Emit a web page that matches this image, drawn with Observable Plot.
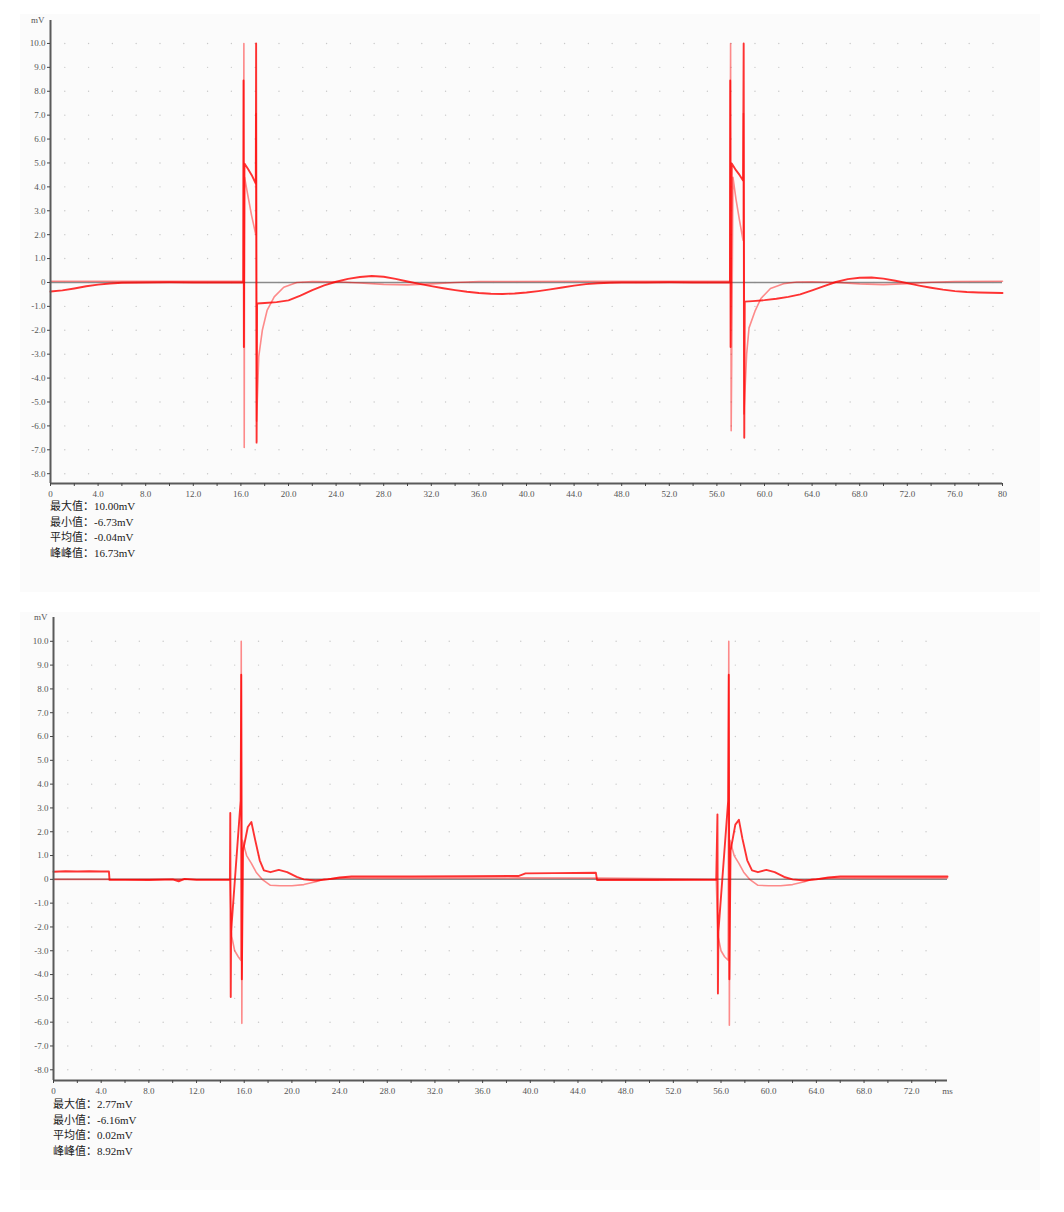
<!DOCTYPE html>
<html><head><meta charset="utf-8">
<script src="https://cdn.jsdelivr.net/npm/d3@7"></script>
<script src="https://cdn.jsdelivr.net/npm/@observablehq/plot@0.6"></script>
<style>
body{margin:0;background:#fff;width:1064px;height:1212px;position:relative;overflow:hidden}
.panel{position:absolute;left:20px;width:1020px;background:#fbfbfb}
.chart{position:absolute;left:0}
.stats{position:absolute;font-size:11px;line-height:15.5px;color:#222;font-family:"Liberation Serif","Noto Sans CJK SC",serif;white-space:pre}
</style></head><body>
<div class="panel" style="top:14px;height:578px"></div>
<div class="panel" style="top:612px;height:578px"></div>
<div id="top" class="chart" style="top:0px"></div>
<div id="bottom" class="chart" style="top:600px"></div>
<div id="statsTop" class="stats" style="left:50px;top:499px"></div>
<div id="statsBottom" class="stats" style="left:53px;top:1097px"></div>
<script>
// ---------- tick values / labels ----------
const yTicks = [-8,-7,-6,-5,-4,-3,-2,-1,0,1,2,3,4,5,6,7,8,9,10];
const yTickLabels = ["-8.0","-7.0","-6.0","-5.0","-4.0","-3.0","-2.0","-1.0","0","1.0","2.0","3.0","4.0","5.0","6.0","7.0","8.0","9.0","10.0"];
const xTicksTop = [0,4,8,12,16,20,24,28,32,36,40,44,48,52,56,60,64,68,72,76,80];
const xLabelsTop = ["0","4.0","8.0","12.0","16.0","20.0","24.0","28.0","32.0","36.0","40.0","44.0","48.0","52.0","56.0","60.0","64.0","68.0","72.0","76.0","80"];
const xTicksBottom = [0,4,8,12,16,20,24,28,32,36,40,44,48,52,56,60,64,68,72,75];
const xLabelsBottom = ["0","4.0","8.0","12.0","16.0","20.0","24.0","28.0","32.0","36.0","40.0","44.0","48.0","52.0","56.0","60.0","64.0","68.0","72.0","ms"];
const xMinorTop = [0,2,4,6,8,10,12,14,16,18,20,22,24,26,28,30,32,34,36,38,40,42,44,46,48,50,52,54,56,58,60,62,64,66,68,70,72,74,76,78,80];
const xMinorBottom = [0,2,4,6,8,10,12,14,16,18,20,22,24,26,28,30,32,34,36,38,40,42,44,46,48,50,52,54,56,58,60,62,64,66,68,70,72,74];
const unitLabel = "mV";

// ---------- statistics text ----------
const statNames = ["最大值","最小值","平均值","峰峰值"];
const statsTop = ["10.00mV","-6.73mV","-0.04mV","16.73mV"];
const statsBottom = ["2.77mV","-6.16mV","0.02mV","8.92mV"];

// ---------- top panel traces [time ms, mV] ----------
const topTrace1 = [[0,0.05],[8,0.05],[16.2,0.05],[16.25,10],[16.28,-6.9],[16.31,4.4],[16.6,3.6],[16.9,2.8],[17.25,2.0],[17.28,7.07],[17.32,-5.8],[17.5,-3.1],[17.8,-2.0],[18.2,-1.17],[18.8,-0.6],[19.6,-0.2],[20.7,0],[22,0.04],[24,0.03],[26,-0.02],[28,-0.08],[30,-0.1],[32,-0.06],[34,0],[36,0.04],[46,0.05],[57.1,0.05],[57.15,10],[57.2,-6.2],[57.35,4.4],[57.6,3.5],[57.9,2.6],[58.2,1.76],[58.23,7.07],[58.27,-5.5],[58.5,-3.0],[58.7,-1.9],[59.2,-1.2],[59.7,-0.67],[60.5,-0.25],[61.6,-0.05],[62.7,0.02],[64,0.03],[66,0],[68,-0.06],[70,-0.09],[72,-0.05],[74,0.01],[76,0.04],[80,0.05]];
const topTrace2 = [[0,-0.38],[1,-0.33],[2,-0.25],[3,-0.16],[4,-0.09],[5,-0.04],[6,-0.01],[8,0],[10,0.01],[12,0],[14,0],[16.2,0],[16.22,8.45],[16.25,-2.7],[16.3,4.98],[16.6,4.75],[16.9,4.5],[17.25,4.14],[17.28,10],[17.32,-6.7],[17.36,-0.88],[18,-0.86],[19,-0.82],[20,-0.75],[21,-0.55],[22,-0.32],[23,-0.12],[24,0.03],[25,0.15],[26,0.23],[27,0.27],[28,0.24],[29,0.15],[30,0.04],[31,-0.06],[32,-0.15],[33,-0.24],[34,-0.32],[35,-0.39],[36,-0.44],[37,-0.47],[38,-0.48],[39,-0.46],[40,-0.42],[41,-0.36],[42,-0.29],[43,-0.21],[44,-0.13],[45,-0.07],[46,-0.03],[47,-0.01],[48,0],[50,0],[52,0.01],[54,0],[57.1,0],[57.12,8.45],[57.15,-2.7],[57.25,4.98],[57.6,4.7],[57.9,4.5],[58.2,4.27],[58.25,10],[58.3,-6.5],[58.34,-0.8],[59,-0.78],[60,-0.74],[61,-0.68],[62,-0.6],[63,-0.5],[64,-0.33],[65,-0.15],[66,0.02],[67,0.14],[68,0.2],[69,0.21],[70,0.16],[71,0.07],[72,-0.03],[73,-0.13],[74,-0.22],[75,-0.3],[76,-0.36],[77,-0.4],[78,-0.42],[79,-0.43],[80,-0.44]];

// ---------- bottom panel traces ----------
const bottomTrace1 = [[0,0],[10,0],[14.8,0],[14.87,-1.2],[14.95,-2.4],[15.2,-3.0],[15.5,-3.25],[15.72,-3.4],[15.75,10],[15.8,-6.05],[15.85,1.64],[16.2,1.0],[16.6,0.67],[17.0,0.3],[17.5,0.0],[18.2,-0.25],[19,-0.27],[20,-0.27],[21,-0.22],[22,-0.1],[22.7,0],[24,0.05],[39,0.06],[45.6,0.05],[55.6,0],[55.67,-1.2],[55.75,-2.4],[56.0,-3.0],[56.3,-3.25],[56.6,-3.4],[56.65,10],[56.7,-6.13],[56.75,1.64],[57.1,1.0],[57.5,0.67],[57.9,0.3],[58.4,0.0],[59.1,-0.25],[60,-0.27],[61,-0.27],[62,-0.22],[63,-0.1],[63.6,0],[65,0.05],[75,0.06]];
const bottomTrace2 = [[0,0.32],[1,0.34],[2,0.33],[3,0.34],[4,0.33],[4.65,0.33],[4.7,-0.02],[6,-0.02],[8,-0.03],[10,0],[10.5,-0.08],[11,0.02],[12,-0.02],[14,-0.02],[14.8,-0.02],[14.83,2.79],[14.87,-4.94],[14.9,-2.2],[15.7,3.3],[15.75,8.6],[15.8,-4.2],[15.9,1.2],[16.3,2.2],[16.6,2.41],[16.9,1.7],[17.3,0.8],[17.65,0.38],[18.2,0.3],[18.9,0.4],[19.6,0.3],[20.4,0.1],[21,0],[22,-0.05],[23,0],[24,0.08],[25,0.12],[30,0.12],[35,0.13],[39,0.14],[39.6,0.25],[42,0.26],[45.5,0.28],[45.6,-0.03],[50,-0.03],[55.6,-0.02],[55.7,2.73],[55.74,-4.8],[55.78,-2.2],[56.6,3.3],[56.65,8.6],[56.7,-4.2],[56.8,1.2],[57.2,2.3],[57.5,2.5],[57.8,1.7],[58.2,0.8],[58.6,0.38],[59.1,0.3],[59.8,0.4],[60.5,0.3],[61.3,0.1],[62,0],[63,-0.05],[64,0],[65,0.08],[66,0.12],[70,0.12],[75,0.12]];

// ---------- drawing ----------
function drawPanel(el, cfg) {
  const grid = d3.cross(cfg.dotX, yTicks, (x, y) => ({x, y}));
  const labelMap = new Map(cfg.xTicks.map((t, i) => [t, cfg.xLabels[i]]));
  const yLabelMap = new Map(yTicks.map((t, i) => [t, yTickLabels[i]]));
  const plot = Plot.plot({
    width: 1064, height: cfg.height,
    marginLeft: cfg.marginLeft, marginRight: cfg.marginRight, marginTop: cfg.marginTop, marginBottom: cfg.marginBottom,
    style: {background: "transparent", overflow: "visible", fontFamily: "'Liberation Serif', serif"},
    x: {domain: cfg.xDomain},
    y: {domain: cfg.yDomain},
    marks: [
      Plot.dot(grid, {x: "x", y: "y", r: 0.7, fill: "#c8c8c8", stroke: null}),
      Plot.ruleY([0], {x1: cfg.xDomain[0], x2: cfg.xDomain[1], stroke: "#8a8a8a", strokeWidth: 1.5}),
      ...cfg.traces.map(t => Plot.line(t.data, {x: d => d[0], y: d => d[1], stroke: "#ff0000", strokeOpacity: t.opacity, strokeWidth: t.width, curve: "linear"})),
      Plot.ruleX([cfg.xDomain[0]], {y1: cfg.yDomain[0], y2: cfg.yDomain[1], stroke: "#5a5a5a", strokeWidth: 2}),
      Plot.ruleY([cfg.yDomain[0]], {x1: cfg.xDomain[0], x2: cfg.xDomain[1], stroke: "#5a5a5a", strokeWidth: 2}),
      Plot.axisY(yTicks, {label: null, tickSize: 3, tickPadding: 2, stroke: "#444", tickFormat: d => yLabelMap.get(d), fontSize: 9, fill: "#555"}),
      Plot.axisX(cfg.xMinor, {label: null, tickSize: 3, tickFormat: () => "", stroke: "#444"}),
      Plot.axisX(cfg.xTicks, {label: null, tickSize: 0, tickPadding: 7, tickFormat: d => labelMap.get(d), fontSize: 9, fill: "#555"}),
      Plot.text([unitLabel], {frameAnchor: "top-left", dx: -6, dy: -4, textAnchor: "end", fontSize: 9, fill: "#555"})
    ]
  });
  document.getElementById(el).appendChild(plot);
}

drawPanel("top", {
  height: 505, marginLeft: 50, marginRight: 62, marginTop: 20, marginBottom: 22,
  xDomain: [0, 80], yDomain: [-8.41, 10.96],
  xTicks: xTicksTop, xLabels: xLabelsTop, xMinor: xMinorTop,
  dotX: xMinorTop.slice(1).map(v => v - 0.8),
  traces: [
    {data: topTrace1, opacity: 0.45, width: 1.6},
    {data: topTrace2, opacity: 0.8, width: 1.9}
  ]
});

drawPanel("bottom", {
  height: 505, marginLeft: 53, marginRight: 117, marginTop: 17, marginBottom: 25,
  xDomain: [0, 75], yDomain: [-8.45, 11.0],
  xTicks: xTicksBottom, xLabels: xLabelsBottom, xMinor: xMinorBottom,
  dotX: xMinorBottom.slice(1).map(v => v - 0.8),
  traces: [
    {data: bottomTrace1, opacity: 0.45, width: 1.6},
    {data: bottomTrace2, opacity: 0.8, width: 1.9}
  ]
});

document.getElementById("statsTop").textContent = statNames.map((n, i) => n + "：" + statsTop[i]).join("\n");
document.getElementById("statsBottom").textContent = statNames.map((n, i) => n + "：" + statsBottom[i]).join("\n");
</script>
</body></html>
